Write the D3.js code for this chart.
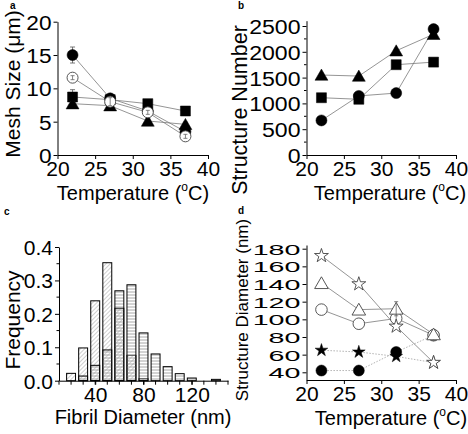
<!DOCTYPE html>
<html><head><meta charset="utf-8">
<script src="https://cdn.jsdelivr.net/npm/d3@7"></script>
<style>
html,body{margin:0;padding:0;background:#fff;}
svg{display:block;}
text{font-family:"Liberation Sans",Arial,sans-serif;fill:#000;}
</style></head>
<body>
<svg id="chart" width="468" height="434"></svg>
<script>
// ---------- DATA ----------
const temps = [22, 27, 32, 37];
const tempTicks = [20, 25, 30, 35, 40];

// panel a: mesh size (um)
const meshFilledCircle = [15.0, 8.5, 6.6, 3.5];
const meshFilledCircleErr = [1.2, 0.3, 0.3, 0.4];
const meshOpenCircle = [11.6, 8.0, 6.4, 2.8];
const meshOpenCircleErr = [0.3, 0.6, 0.3, 0.3];
const meshSquare = [8.7, 8.3, 7.7, 6.6];
const meshSquareErr = [1.1, 0.3, 0.3, 0.3];
const meshTriangle = [7.7, 7.4, 5.1, 4.6];
const meshTriangleErr = [0.3, 0.3, 0.3, 0.3];
const meshTicks = [0, 5, 10, 15, 20];

// panel b: structure number
const structTriangle = [1550, 1530, 2020, 2340];
const structSquare = [1110, 1080, 1750, 1800];
const structCircle = [670, 1145, 1200, 2440];
const structTicks = [0, 500, 1000, 1500, 2000, 2500];

// panel c: fibril diameter histogram
const binCenters = [20, 30, 40, 50, 60, 70, 80, 90, 100, 110, 120, 130, 140];
const freqDiagonal = [0.022, 0.098, 0.239, 0.353, 0.217, 0.076, 0.006, 0, 0, 0, 0, 0, 0];
const freqHorizontal = [0, 0.014, 0.046, 0.092, 0.269, 0.287, 0.143, 0.080, 0.042, 0.021, 0.008, 0, 0.004];
const freqTicks = [0.0, 0.1, 0.2, 0.3, 0.4];
const diamTicksLabeled = [40, 80, 120];

// panel d: structure diameter (nm)
const diamOpenStar = [172, 140, 92, 51];
const diamOpenTriangle = [141, 111, 112, 83];
const diamOpenTriangleErr = [0, 0, 8, 0];
const diamOpenCircle = [111, 95, 101, 82];
const diamOpenCircleErr = [0, 0, 8, 6];
const diamFilledStar = [65, 63, 58, 51];
const diamFilledCircle = [42, 42, 63, 82];
const sdTicks = [40, 60, 80, 100, 120, 140, 160, 180];

// ---------- DRAW ----------
const svg = d3.select("#chart");
const FS = 20;

// patterns
const defs = svg.append("defs");
const pd = defs.append("pattern").attr("id","diag").attr("patternUnits","userSpaceOnUse")
  .attr("width",3).attr("height",3).attr("patternTransform","rotate(45)");
pd.append("line").attr("x1",0).attr("y1",0).attr("x2",0).attr("y2",3)
  .attr("stroke","#a0a0a0").attr("stroke-width",1);
const ph = defs.append("pattern").attr("id","horiz").attr("patternUnits","userSpaceOnUse")
  .attr("width",4).attr("height",3);
ph.append("line").attr("x1",0).attr("y1",1).attr("x2",4).attr("y2",1)
  .attr("stroke","#a8a8a8").attr("stroke-width",1);

function styleAxis(g, fs){
  g.selectAll("path.domain").attr("stroke","#000").attr("stroke-width",1);
  g.selectAll(".tick line").attr("stroke","#000");
  g.selectAll(".tick text").style("font-size",fs+"px").attr("fill","#000");
}
function stretchLabels(g, s){
  g.selectAll(".tick text").each(function(){
    const t = d3.select(this);
    const x0 = +t.attr("x");
    t.attr("x",0).attr("transform",`translate(${x0},0) scale(${s},1)`);
  });
}

function panelAxes(x, y, xTicks, yTicks, opts){
  const xa = svg.append("g").attr("transform",`translate(0,${y.range()[0]})`)
    .call(d3.axisBottom(x).tickValues(xTicks).tickSize(4).tickSizeOuter(0).tickPadding(2)
      .tickFormat(opts.xfmt || d3.format("d")));
  styleAxis(xa, opts.xfs || 21);
  const ya = svg.append("g").attr("transform",`translate(${x.range()[0]},0)`)
    .call(d3.axisLeft(y).tickValues(yTicks).tickSize(4).tickSizeOuter(0).tickPadding(2)
      .tickFormat(opts.yfmt || d3.format("d")));
  styleAxis(ya, opts.yfs || 21);
  ya.selectAll(".tick text").attr("dy","0.36em");
  if (opts.yStretch) stretchLabels(ya, opts.yStretch);
  if (opts.yMinor){
    ya.selectAll(".minor").data(opts.yMinor).enter().append("line")
      .attr("x1",-2.5).attr("x2",0).attr("y1",d=>y(d)).attr("y2",d=>y(d)).attr("stroke","#000");
  }
  if (opts.xMinor){
    xa.selectAll(".minor").data(opts.xMinor).enter().append("line")
      .attr("y1",0).attr("y2",4).attr("x1",d=>x(d)).attr("x2",d=>x(d)).attr("stroke","#000");
  }
  return {xa, ya};
}

function xTitle(cx, cy, parts){
  const t = svg.append("text").attr("x",cx).attr("y",cy).attr("text-anchor","middle")
    .style("font-size",FS+"px");
  parts.forEach(p=>{
    const ts = t.append("tspan").text(p.t);
    if (p.sup){ ts.style("font-size","12px").attr("dy","-0.75em"); }
    if (p.after){ ts.attr("dy","0.45em"); }
  });
  return t;
}
function yTitle(cx, cy, txt, fs){
  svg.append("text").attr("transform",`translate(${cx},${cy}) rotate(-90)`)
    .attr("text-anchor","middle").style("font-size",(fs||FS)+"px").text(txt);
}
function panelLabel(x, y, txt){
  svg.append("text").attr("x",x).attr("y",y).style("font-size","10px")
    .style("font-weight","bold").text(txt);
}

const symCircle = d3.symbol().type(d3.symbolCircle).size(95);
const symSquare = d3.symbol().type(d3.symbolSquare).size(100);
const symTri = d3.symbol().type(d3.symbolTriangle).size(72);

function series(x, y, vals, opts){
  const pts = temps.map((t,i)=>({t, v: vals[i], e: opts.err ? opts.err[i] : 0}));
  svg.append("path").datum(pts)
    .attr("d", d3.line().x(d=>x(d.t)).y(d=>y(d.v)))
    .attr("fill","none").attr("stroke", opts.lineColor || "#7a7a7a")
    .attr("stroke-width", opts.lineWidth || 0.8)
    .attr("stroke-dasharray", opts.dash || null);
  return pts;
}
function markers(x, y, pts, sym, opts){
  const g = svg.append("g");
  pts.forEach(d=>{
    if (d.e > 0){
      g.append("line").attr("x1",x(d.t)).attr("x2",x(d.t)).attr("y1",y(d.v-d.e)).attr("y2",y(d.v+d.e))
        .attr("stroke","#555").attr("stroke-width",0.8);
      [d.v-d.e, d.v+d.e].forEach(v=>g.append("line").attr("x1",x(d.t)-2.5).attr("x2",x(d.t)+2.5)
        .attr("y1",y(v)).attr("y2",y(v)).attr("stroke","#555").attr("stroke-width",0.8));
    }
  });
  g.selectAll("path").data(pts).enter().append("path")
    .attr("transform", d=>`translate(${x(d.t)},${y(d.v) + (opts.dy||0)})`)
    .attr("d", sym)
    .attr("fill","#000").attr("stroke","#000").attr("stroke-width",0.5);
}
function openMarkers(x, y, pts, sym, dy){
  const g = svg.append("g");
  g.selectAll("path").data(pts).enter().append("path")
    .attr("transform", d=>`translate(${x(d.t)},${y(d.v)+(dy||0)})`)
    .attr("d", sym).attr("fill","#fff").attr("stroke","#444").attr("stroke-width",0.9);
  pts.forEach(d=>{
    if (d.e>0){
      g.append("line").attr("x1",x(d.t)).attr("x2",x(d.t)).attr("y1",y(d.v-d.e)).attr("y2",y(d.v+d.e))
        .attr("stroke","#666").attr("stroke-width",0.8);
      [d.v-d.e, d.v+d.e].forEach(v=>g.append("line").attr("x1",x(d.t)-2).attr("x2",x(d.t)+2)
        .attr("y1",y(v)).attr("y2",y(v)).attr("stroke","#666").attr("stroke-width",0.8));
    }
  });
}

// ===== Panel a =====
{
  const x = d3.scaleLinear().domain([20,40]).range([57.5,208]);
  const y = d3.scaleLinear().domain([0,20]).range([155,21.7]);
  panelAxes(x, y, tempTicks, meshTicks, {yStretch:1.08});
  const pSq = series(x,y,meshSquare,{err:meshSquareErr});
  const pTr = series(x,y,meshTriangle,{err:meshTriangleErr});
  const pFc = series(x,y,meshFilledCircle,{err:meshFilledCircleErr});
  const pOc = series(x,y,meshOpenCircle,{err:meshOpenCircleErr});
  markers(x,y,pSq,symSquare,{});
  markers(x,y,pTr,symTri,{dy:1.5});
  markers(x,y,pFc,symCircle,{});
  openMarkers(x,y,pOc,d3.symbol().type(d3.symbolCircle).size(95));
  xTitle(133, 200, [{t:"Temperature ("},{t:"o",sup:true},{t:"C)",after:true}]);
  yTitle(19.5, 84, "Mesh Size (\u03BCm)", 21);
  panelLabel(10, 9, "a");
}

// ===== Panel b =====
{
  const x = d3.scaleLinear().domain([20,40]).range([306.5,456]);
  const y0 = d3.scaleLinear().domain([0,2500]).range([155,26]);
  const y = d3.scaleLinear().domain([0, y0.invert(20.7)]).range([155,20.7]);
  panelAxes(x, y, tempTicks, structTicks, {yMinor: d3.range(250, 2600, 500), yStretch:1.1});
  const pC = series(x,y,structCircle,{});
  const pS = series(x,y,structSquare,{});
  const pT = series(x,y,structTriangle,{});
  markers(x,y,pS,symSquare,{});
  markers(x,y,pT,symTri,{dy:1.5});
  markers(x,y,pC,symCircle,{});
  xTitle(390, 200, [{t:"Temperature ("},{t:"o",sup:true},{t:"C)",after:true}]);
  yTitle(247, 110, "Structure Number", 21.5);
  panelLabel(238, 9, "b");
}

// ===== Panel c =====
{
  const x = d3.scaleLinear().domain([10,150]).range([59,228]);
  const y = d3.scaleLinear().domain([0,0.4]).range([380.7,247]);
  panelAxes(x, y, diamTicksLabeled, freqTicks,
    {yfmt: d3.format(".1f"), yMinor: [0.05,0.15,0.25,0.35], xMinor: d3.range(10,151,10)});
  const bw = 3.7;
  const gd = svg.append("g");
  gd.selectAll("rect.d").data(binCenters.map((c,i)=>({c, f:freqDiagonal[i]})).filter(d=>d.f>0))
    .enter().append("rect")
    .attr("x",d=>x(d.c-bw)).attr("width",d=>x(d.c+bw)-x(d.c-bw))
    .attr("y",d=>y(d.f)).attr("height",d=>y(0)-y(d.f))
    .attr("fill","url(#diag)").attr("stroke","#000").attr("stroke-width",1);
  gd.selectAll("rect.h").data(binCenters.map((c,i)=>({c, f:freqHorizontal[i]})).filter(d=>d.f>0))
    .enter().append("rect")
    .attr("x",d=>x(d.c-bw)).attr("width",d=>x(d.c+bw)-x(d.c-bw))
    .attr("y",d=>y(d.f)).attr("height",d=>y(0)-y(d.f))
    .attr("fill","url(#horiz)").attr("stroke","#000").attr("stroke-width",1);
  xTitle(143, 424, [{t:"Fibril Diameter (nm)"}]);
  yTitle(19.5, 320, "Frequency", 21);
  panelLabel(4, 215, "c");
}

// ===== Panel d =====
{
  const x = d3.scaleLinear().domain([20,40]).range([306.5,456]);
  const y0 = d3.scaleLinear().domain([40,180]).range([372.3,248.7]);
  const y = d3.scaleLinear().domain([y0.invert(380), y0.invert(245)]).range([380,245]);
  panelAxes(x, y, tempTicks, sdTicks, {yfs:15.5, yStretch:1.85});
  const lc = "#a0a0a0";
  const pFS = series(x,y,diamFilledStar,{dash:"1.5,1.5",lineColor:lc});
  const pFC = series(x,y,diamFilledCircle,{dash:"1.5,1.5",lineColor:lc});
  const pOS = series(x,y,diamOpenStar,{});
  const pOT = series(x,y,diamOpenTriangle,{err:diamOpenTriangleErr});
  const pOC = series(x,y,diamOpenCircle,{err:diamOpenCircleErr});
  markers(x,y,pFS,d3.symbol().type(d3.symbolStar).size(50),{});
  markers(x,y,pFC,symCircle,{});
  openMarkers(x,y,pOC,d3.symbol().type(d3.symbolCircle).size(105));
  openMarkers(x,y,pOT,d3.symbol().type(d3.symbolTriangle).size(80),1.5);
  openMarkers(x,y,pOS,d3.symbol().type(d3.symbolStar).size(60));
  xTitle(391, 425, [{t:"Temperature ("},{t:"o",sup:true},{t:"C)",after:true}]);
  yTitle(248, 310, "Structure Diameter (nm)", 17);
  panelLabel(238, 214, "d");
}
</script>
</body></html>
